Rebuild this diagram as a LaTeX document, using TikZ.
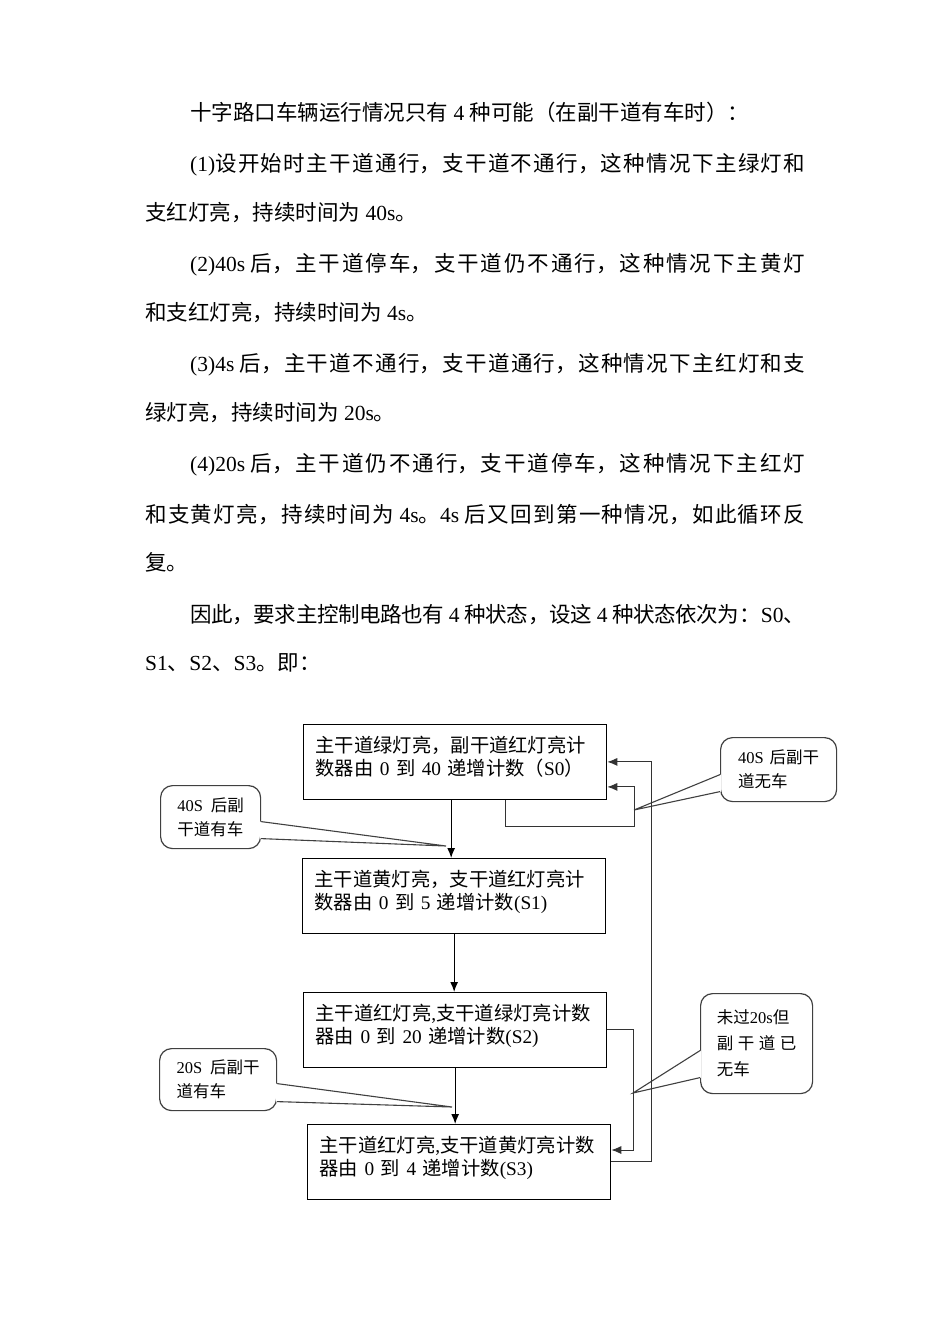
\documentclass[tikz,border=0pt]{standalone}
\usepackage{fontspec}
\setmainfont{Noto Sans CJK SC}
\newfontfamily\latf{Liberation Serif}
\newcommand\lat[1]{{\latf #1}}
\newcommand\jline[2]{\parbox{#1}{\XeTeXlinebreaklocale "zh"\XeTeXlinebreakskip=0pt plus 1pt minus 1pt\spaceskip=5.4pt minus 1pt\relax\parfillskip=0pt\noindent #2}}
\usetikzlibrary{arrows.meta}
\begin{document}
\begin{tikzpicture}[x=1pt,y=-1pt,
  txt/.style={anchor=west,inner sep=0pt,text height=18.9pt,text depth=2.6pt,font=\fontsize{21.5}{25}\selectfont},
  state/.style={draw,line width=1.3pt,anchor=north west,inner xsep=12pt,inner ysep=0pt,text width=279pt,align=left,text height=27.5pt,text depth=47pt,font=\fontsize{19.3}{23}\selectfont},
  bubble/.style={draw=black!75,line width=1.2pt,rounded corners=12pt,anchor=north west,align=left,inner sep=0pt,font=\fontsize{16.5}{24}\selectfont},
  wedge/.style={draw=black!75,line width=1.1pt},
  arr/.style={line width=1.3pt,-{Latex[length=10pt,width=8pt]}},
  back/.style={line width=0.9pt,draw=black!80,-{Latex[length=10pt,width=8pt]}}]
\useasboundingbox (0,0) rectangle (950,1344);
\node[txt] (l1) at (190,112) {十字路口车辆运行情况只有\lat{ 4 }种可能（在副干道有车时）：};
\node[txt] (l2) at (190,162) {\jline{615pt}{\lat{(1)}设开始时主干道通行，支干道不通行，这种情况下主绿灯和}};
\node[txt] (l3) at (145,212) {支红灯亮，持续时间为\lat{ 40s}。};
\node[txt] (l4) at (190,262) {\jline{615pt}{\lat{(2)40s }后，主干道停车，支干道仍不通行，这种情况下主黄灯}};
\node[txt] (l5) at (145,312) {和支红灯亮，持续时间为\lat{ 4s}。};
\node[txt] (l6) at (190,362) {\jline{615pt}{\lat{(3)4s }后，主干道不通行，支干道通行，这种情况下主红灯和支}};
\node[txt] (l7) at (145,412) {绿灯亮，持续时间为\lat{ 20s}。};
\node[txt] (l8) at (190,462) {\jline{615pt}{\lat{(4)20s }后，主干道仍不通行，支干道停车，这种情况下主红灯}};
\node[txt] (l9) at (145,512) {\jline{660pt}{和支黄灯亮，持续时间为\lat{ 4s}。\lat{4s }后又回到第一种情况，如此循环反}};
\node[txt] (l10) at (145,562) {复。};
\node[txt] (l11) at (190,612) {\jline{615pt}{因此，要求主控制电路也有\lat{ 4 }种状态，设这\lat{ 4 }种状态依次为：\lat{S0}、}};
\node[txt] (l12) at (145,662) {\lat{S1}、\lat{S2}、\lat{S3}。即：};
\node[state] (s0) at (303,724) {主干道绿灯亮，副干道红灯亮计\\数器由\lat{ 0 }到\lat{ 40 }递增计数（\lat{S0}）};
\node[state] (s1) at (302,858) {主干道黄灯亮，支干道红灯亮计\\数器由\lat{ 0 }到\lat{ 5 }递增计数\lat{(S1)}};
\node[state] (s2) at (303,992) {主干道红灯亮\lat{,}支干道绿灯亮计数\\器由\lat{ 0 }到\lat{ 20 }递增计数\lat{(S2)}};
\node[state] (s3) at (307,1124) {主干道红灯亮\lat{,}支干道黄灯亮计数\\器由\lat{ 0 }到\lat{ 4 }递增计数\lat{(S3)}};
\node[bubble,minimum width=116pt,minimum height=64pt] (b0) at (720,737) {\lat{40S}\hspace{6pt}后副干\\道无车};
\node[bubble,minimum width=100pt,minimum height=63pt] (b1) at (160,785) {\lat{40S}\hspace{8pt}后副\\干道有车};
\node[bubble,minimum width=112pt,minimum height=100pt,font=\fontsize{16.5}{26}\selectfont] (b2) at (700,993) {未过\lat{20s}但\\副\hspace{4.5pt}干\hspace{4.5pt}道\hspace{4.5pt}已\\无车};
\node[bubble,minimum width=117pt,minimum height=62pt] (b3) at (159,1048) {\lat{20S}\hspace{8pt}后副干\\道有车};
\coordinate (t0) at (634,810);
\coordinate (t1) at (446,846);
\coordinate (t2) at (633,1093);
\coordinate (t3) at (452,1107);
\fill[white] ([shift={(1pt,-5pt)}]b0.west) -- (t0) -- ([shift={(1pt,-22pt)}]b0.west) -- cycle;
\draw[wedge] ([yshift=-5pt]b0.west) -- (t0) -- ([yshift=-22pt]b0.west);
\fill[white] ([shift={(-1pt,-4.5pt)}]b1.east) -- (t1) -- ([shift={(-1pt,-21.5pt)}]b1.east) -- cycle;
\draw[wedge] ([yshift=-4.5pt]b1.east) -- (t1) -- ([yshift=-21.5pt]b1.east);
\fill[white] ([shift={(1pt,-7pt)}]b2.west) -- (t2) -- ([shift={(1pt,-34pt)}]b2.west) -- cycle;
\draw[wedge] ([yshift=-7pt]b2.west) -- (t2) -- ([yshift=-34pt]b2.west);
\fill[white] ([shift={(-1pt,-4pt)}]b3.east) -- (t3) -- ([shift={(-1pt,-22pt)}]b3.east) -- cycle;
\draw[wedge] ([yshift=-4pt]b3.east) -- (t3) -- ([yshift=-22pt]b3.east);
\coordinate (j0) at (634,826);
\coordinate (j2) at (633,1150);
\draw[arr] ([xshift=-4pt]s0.south) -- ([xshift=-4pt]s0.south |- s1.north);
\draw[arr] (s1.south) -- (s1.south |- s2.north);
\draw[arr] (s2.south) -- (s2.south |- s3.north);
\draw[back] ([xshift=50pt]s0.south) |- (j0) |- ([yshift=-25pt]s0.east);
\draw[back] (s2.east) -| (j2) -- (j2 -| s3.east);
\draw[back] (s3.east) -- ++(40,0) |- (s0.east);
\end{tikzpicture}
\end{document}
